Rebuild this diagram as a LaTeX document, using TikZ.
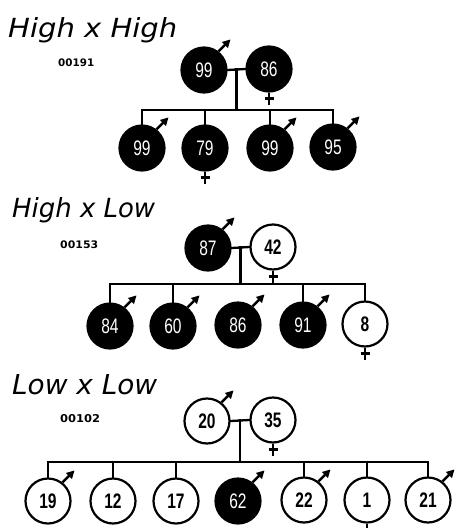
\documentclass[tikz,border=0pt]{standalone}
\usepackage{fontspec}
\usetikzlibrary{arrows.meta,calc}
\setmainfont{DejaVu Sans}
\newfontfamily\titlefont{DejaVu Sans}
\newfontfamily\codefont{DejaVu Sans}
\newfontfamily\numfont{Liberation Sans}

% condensed digits inside the circles
\newcommand\thinnum[1]{\scalebox{0.74}[1]{\numfont\fontsize{21}{21}\selectfont #1}}
\newcommand\boldnum[1]{\scalebox{0.74}[1]{\numfont\bfseries\fontsize{21}{21}\selectfont #1}}

\tikzset{
  person/.style={circle, draw=black, line width=2.2pt, minimum size=45pt, inner sep=0pt},
  aff/.style={person, fill=black, text=white},
  unaff/.style={person, fill=white, text=black},
  link/.style={line width=2.3pt, line cap=rect},
  malesym/.style={line width=2.4pt, -{Triangle[length=8pt,width=8pt]}},
  femsym/.style={line width=2.8pt},
  label/.style={inner sep=0pt, anchor=base west}
}
% sex marks attached to a named person node
\newcommand\malemark[1]{\draw[malesym] (#1.52) -- ++(45:17pt);}
\newcommand\femmark[1]{%
  \draw[femsym] (#1.south) -- ++(0,12);
  \draw[femsym] ($(#1.south)+(-4.5,5.5)$) -- ++(9,0);}
% a mating with its sibship line
\newcommand\family[4]{% #1 father, #2 mother, #3 first child, #4 last child ; sibship level from coordinate s#1
  \draw[link] (#1.east) -- (#2.west);
  \coordinate (m#1) at ($(#1.east)!0.5!(#2.west)$);
  \draw[link] (m#1) -- (m#1 |- s#1);
  \draw[link] (#3.north) -- (#3.north |- s#1) -- (#4.north |- s#1) -- (#4.north);}

\begin{document}
\begin{tikzpicture}[x=1pt, y=-1pt]
\useasboundingbox (0,0) rectangle (456,528);

% ---------- High x High ----------
\node[label] (t1) at (8,37.5) {\resizebox{169pt}{20pt}{\titlefont\itshape High x High}};
\node[label] (k1) at (58,66) {\resizebox{36pt}{7.7pt}{\codefont\bfseries 00191}};
\node[aff] (a) at (204,70) {\thinnum{99}};
\node[aff] (b) at (269,69) {\thinnum{86}};
\coordinate (sa) at (237,110);
\node[aff] (a1) at (142,148) {\thinnum{99}};
\node[aff] (a2) at (205,148) {\thinnum{79}};
\node[aff] (a3) at (270,148) {\thinnum{99}};
\node[aff] (a4) at (333,147) {\thinnum{95}};
\family{a}{b}{a1}{a4}
\draw[link] (a2.north) -- (a2.north |- sa);
\draw[link] (a3.north) -- (a3.north |- sa);
\malemark{a} \femmark{b}
\malemark{a1} \femmark{a2} \malemark{a3} \malemark{a4}

% ---------- High x Low ----------
\node[label] (t2) at (12,217.5) {\resizebox{143pt}{20pt}{\titlefont\itshape High x Low}};
\node[label] (k2) at (60,248.3) {\resizebox{38pt}{7.7pt}{\codefont\bfseries 00153}};
\node[aff] (c) at (208,248) {\thinnum{87}};
\node[unaff] (d) at (273,247) {\boldnum{42}};
\coordinate (sc) at (238,284);
\node[aff] (c1) at (110,326) {\thinnum{84}};
\node[aff] (c2) at (173,326) {\thinnum{60}};
\node[aff] (c3) at (238,325) {\thinnum{86}};
\node[aff] (c4) at (303,325) {\thinnum{91}};
\node[unaff] (c5) at (365,324) {\boldnum{8}};
\family{c}{d}{c1}{c5}
\foreach \k in {c2,c4} {\draw[link] (\k.north) -- (\k.north |- sc);}
\malemark{c} \femmark{d}
\malemark{c1} \malemark{c2} \malemark{c3} \malemark{c4} \femmark{c5}

% ---------- Low x Low ----------
\node[label] (t3) at (12,394) {\resizebox{145pt}{20pt}{\titlefont\itshape Low x Low}};
\node[label] (k3) at (60,422.7) {\resizebox{40pt}{8pt}{\codefont\bfseries 00102}};
\node[unaff] (e) at (207,421) {\boldnum{20}};
\node[unaff] (f) at (273,420) {\boldnum{35}};
\coordinate (se) at (238,462);
\node[unaff] (e1) at (48,501) {\boldnum{19}};
\node[unaff] (e2) at (113,501) {\boldnum{12}};
\node[unaff] (e3) at (176,501) {\boldnum{17}};
\node[aff]   (e4) at (238,501) {\thinnum{62}};
\node[unaff] (e5) at (304,500) {\boldnum{22}};
\node[unaff] (e6) at (367,500) {\boldnum{1}};
\node[unaff] (e7) at (428,500) {\boldnum{21}};
\family{e}{f}{e1}{e7}
\foreach \k in {e2,e3,e5,e6} {\draw[link] (\k.north) -- (\k.north |- se);}
\malemark{e} \femmark{f}
\malemark{e1} \malemark{e4} \malemark{e5} \femmark{e6} \malemark{e7}
\end{tikzpicture}
\end{document}
